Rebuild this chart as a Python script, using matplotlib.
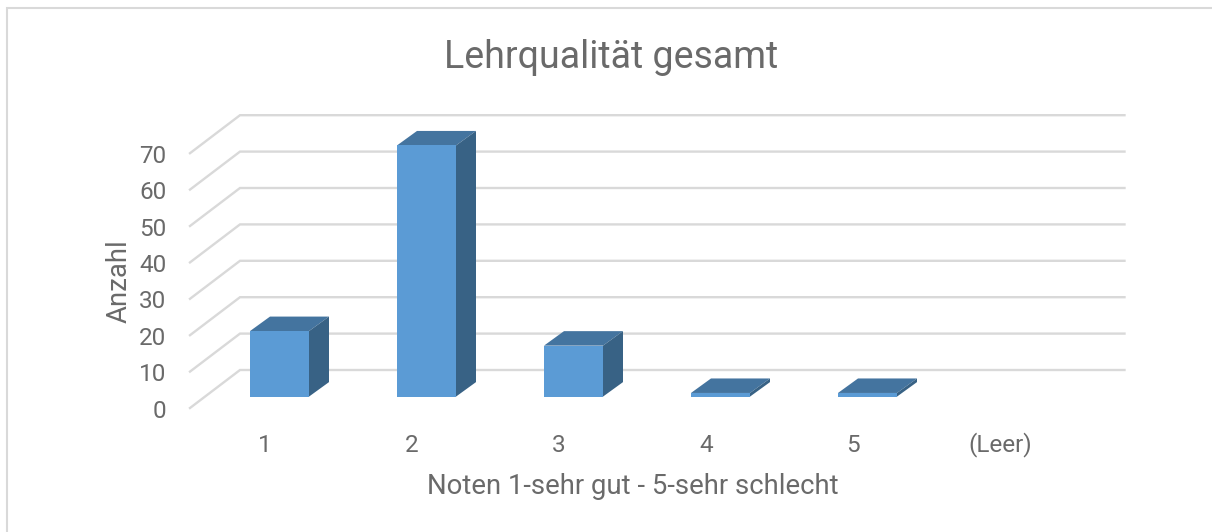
import matplotlib
matplotlib.use("Agg")
import matplotlib.pyplot as plt
from matplotlib.lines import Line2D
from matplotlib.patches import Polygon, Rectangle

categories = ["1", "2", "3", "4", "5", "(Leer)"]
counts = [18, 69, 14, 1, 1, 0]
value_ticks = [0, 10, 20, 30, 40, 50, 60, 70]
title = "Lehrqualität gesamt"
xlabel = "Noten 1-sehr gut - 5-sehr schlecht"
ylabel = "Anzahl"

W, H = 1212, 532
X0, SX = 279.5, 147.0      # first category centre and category spacing (px)
Y0, SY = 396.6, 3.64       # bar base and px per unit
BAR_W = 59 / SX
DX, DY = 20 / SX, 14.5 / SY  # bar depth in data units
WALL_DY = (Y0 - 370) / SY
FLOOR_DY = (Y0 - 408) / SY
WALL_L, WALL_R = (240 - X0) / SX, (1124.5 - X0) / SX
FLOOR_L = (190 - X0) / SX

TXT = "#6A6A6A"
FRONT, TOP, SIDE = "#5B9BD5", "#44749F", "#386285"
GRID = "#D9D9D9"
FONT = "Roboto"

fig = plt.figure(figsize=(W / 100, H / 100), dpi=100, facecolor="white")
ax = fig.add_axes([0, 0, 1, 1])
ax.set_xlim(-X0 / SX, (W - X0) / SX)
ax.set_ylim((Y0 - H) / SY, Y0 / SY)
ax.axis("off")

# chart frame: only the left and top edges fall inside the picture
fig.add_artist(Line2D([7 / W, 7 / W, 1], [0, 1 - 8 / H, 1 - 8 / H], color=GRID, lw=1.5,
                      solid_joinstyle="miter"))

for v in value_ticks:
    ax.plot([FLOOR_L, WALL_L, WALL_R], [v + FLOOR_DY, v + WALL_DY, v + WALL_DY],
            color=GRID, lw=1.7, solid_joinstyle="miter", zorder=1)
    ax.text((166.5 - X0) / SX, v + FLOOR_DY - 3 / SY, str(v), ha="right", va="center",
            fontsize=17.5, color=TXT, family=FONT)

for i, (c, n) in enumerate(zip(categories, counts)):
    l, r = i - BAR_W / 2, i + BAR_W / 2
    if n > 0:
        ax.add_patch(Polygon([(l, n), (r, n), (r + DX, n + DY), (l + DX, n + DY)], fc=TOP, ec="none", zorder=3))
        ax.add_patch(Polygon([(r, 0), (r + DX, DY), (r + DX, n + DY), (r, n)], fc=SIDE, ec="none", zorder=3))
        ax.add_patch(Rectangle((l, 0), BAR_W, n, fc=FRONT, ec="none", zorder=4))
    ax.text(i - 14.5 / SX, (Y0 - 445) / SY, c, ha="center", va="center",
            fontsize=17.5, color=TXT, family=FONT)

ax.text((611.5 - X0) / SX, (Y0 - 58) / SY, title, ha="center", va="center",
        fontsize=27, color=TXT, family=FONT)
ax.text((632.5 - X0) / SX, (Y0 - 486) / SY, xlabel, ha="center", va="center",
        fontsize=19.8, color=TXT, family=FONT)
ax.text((119 - X0) / SX, (Y0 - 281) / SY, ylabel, ha="center", va="center", rotation=90,
        fontsize=19.8, color=TXT, family=FONT)

fig.savefig("out.png", dpi=100)
